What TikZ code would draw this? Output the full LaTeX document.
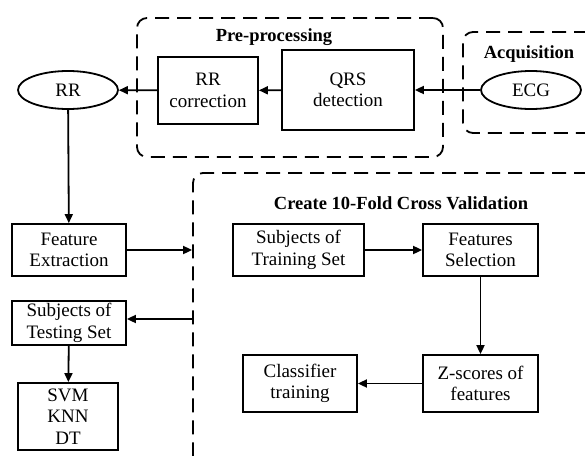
\documentclass[tikz,border=0pt]{standalone}
\usepackage{fontspec}
\setmainfont{Liberation Serif}
\usetikzlibrary{arrows.meta,shapes.geometric}
\begin{document}
\begin{tikzpicture}[x=1pt,y=-1pt,
  box/.style={draw,line width=1.8pt,align=center,inner sep=0pt,font=\fontsize{19}{21.5}\selectfont},
  oval/.style={draw,ellipse,line width=1.8pt,inner sep=0pt,font=\fontsize{19}{21.5}\selectfont},
  group/.style={draw,dash pattern=on 14pt off 8pt,line width=1.8pt,rounded corners=10pt,inner sep=0pt},
  grouptitle/.style={font=\bfseries\fontsize{18.5}{20}\selectfont,inner sep=0pt},
  arr/.style={-{Triangle[length=9pt,width=8pt]},line width=1.8pt}]
\useasboundingbox (0,0) rectangle (585,455);
\clip (0,0) rectangle (585,455);
% groups
\node[group,minimum width=306pt,minimum height=139pt] (pre) at (290,87.5) {};
\node[group,minimum width=157pt,minimum height=101pt] (acq) at (541.5,82.5) {};
\node[group,minimum width=427pt,minimum height=307pt] (cv) at (406.5,326.5) {};
\node[grouptitle] (pretitle) at (274,37) {Pre-processing};
\node[grouptitle] (acqtitle) at (529,54) {Acquisition};
\node[grouptitle] (cvtitle) at (401,203) {Create 10-Fold Cross Validation};
% nodes
\node[oval,minimum width=100pt,minimum height=38pt] (rr) at (68,90) {RR};
\node[box,minimum width=100pt,minimum height=67pt] (rc) at (208,90.5) {RR\\correction};
\node[box,minimum width=132pt,minimum height=80pt] (qrs) at (348,90) {QRS\\detection};
\node[oval,minimum width=100pt,minimum height=38pt] (ecg) at (531,90) {ECG};
\node[box,minimum width=114pt,minimum height=52pt] (fe) at (69,250) {Feature\\Extraction};
\node[box,minimum width=114pt,minimum height=44pt] (ts) at (69,323) {Subjects of\\Testing Set};
\node[box,minimum width=100pt,minimum height=67pt] (svm) at (68,416.5) {SVM\\KNN\\DT};
\node[box,minimum width=131pt,minimum height=52pt] (train) at (298.5,250) {Subjects of\\Training Set};
\node[box,minimum width=115pt,minimum height=52pt] (fs) at (480.5,250) {Features\\Selection};
\node[box,minimum width=115pt,minimum height=57pt] (zs) at (480.5,383.5) {Z-scores of\\features};
\node[box,minimum width=114pt,minimum height=57pt] (ct) at (300,383.5) {Classifier\\training};
% connectors
\draw[arr] (ecg) -- (qrs);
\draw[arr] (qrs) -- (rc);
\draw[arr] (rc) -- (rr);
\draw[arr] (rr) -- (fe);
\draw[arr] (fe.east) -- (fe.east -| cv.west);
\draw[arr] ([yshift=4pt]cv.west |- ts.east) -- ([yshift=4pt]ts.east);
\draw[arr] (ts) -- (svm);
\draw[arr] (train) -- (fs);
\draw[arr] (fs) -- (zs);
\draw[arr] (zs) -- (ct);
\end{tikzpicture}
\end{document}
